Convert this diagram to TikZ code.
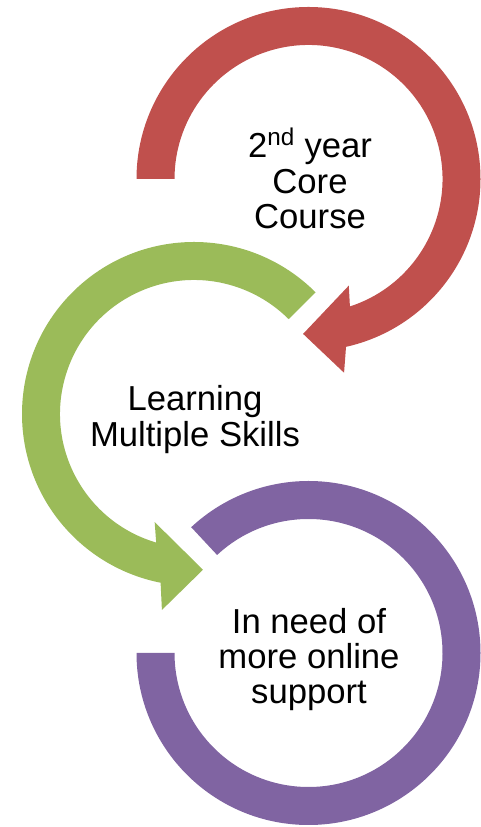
\documentclass[tikz,border=0pt]{standalone}
\usepackage{fontspec}
\setmainfont{Liberation Sans}
\definecolor{ringred}{HTML}{C0504D}
\definecolor{ringgreen}{HTML}{9BBB59}
\definecolor{ringpurple}{HTML}{8064A2}
\tikzstyle{ringlabel}=[align=center,inner sep=0pt,
font=\fontsize{26}{26.5}\selectfont]

\begin{document}
\begin{tikzpicture}[x=0.75pt,y=0.75pt]
            \useasboundingbox (0,0) rectangle (481,827);

            % centres of the rings
            \coordinate (c1) at (308.5,648);
            \coordinate (c2) at (194,413);
            \coordinate (c3) at (308.5,174);

            % Core course PART
            \fill[ringred,shift={(c1)}] (180:172) arc[start angle=180,end angle=-77.4,radius=172]
                -- (-79.6:197) -- (-92:155) -- (-69.3:114) -- (-72:134)
                arc[start angle=-72,end angle=180,radius=134] -- cycle;
            \node[ringlabel] (core) at (310,648.5) {2\textsuperscript{nd} year\\Core\\Course};

            % Skills PART
            \fill[ringgreen,shift={(c2)}] (45:172) arc[start angle=45,end angle=258.8,radius=172]
                -- (260.7:198.6) -- (273.3:156) -- (250:115) -- (253.6:134)
                arc[start angle=253.6,end angle=45,radius=134] -- cycle;
            \node[ringlabel] (skills) at (195,407.3) {Learning\\Multiple Skills};

            % Support PART
            \fill[ringpurple,shift={(c3)}] (180:172) arc[start angle=180,end angle=493,radius=172]
                -- (133:134) arc[start angle=493,end angle=180,radius=134] -- cycle;
            \node[ringlabel] (support) at (309,167.5) {In need of\\more online\\support};

\end{tikzpicture}
\end{document}
